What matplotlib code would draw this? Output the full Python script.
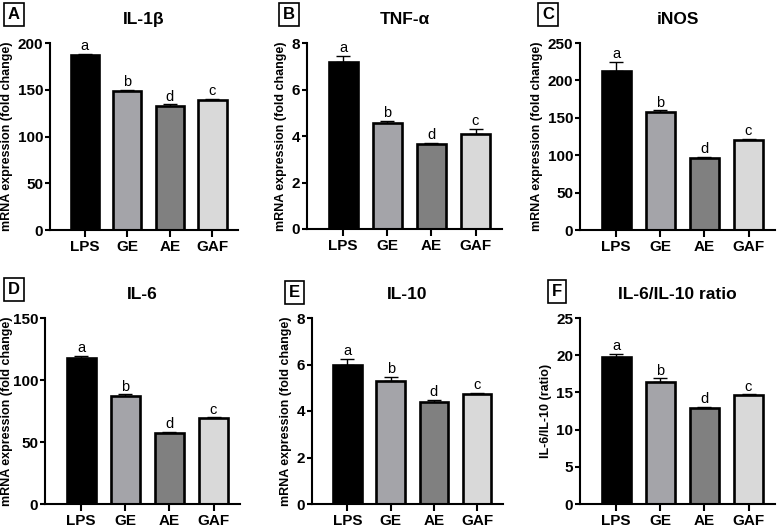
import matplotlib
matplotlib.use("Agg")
import matplotlib.pyplot as plt

plt.rcParams['font.family'] = ['Liberation Sans', 'DejaVu Sans']

# data
groups = ['LPS', 'GE', 'AE', 'GAF']
bar_colors = ['#000000', '#a4a4a9', '#808080', '#d9d9d9']
sig_letters = ['a', 'b', 'd', 'c']

il1b = [187, 149, 133, 139]
il1b_err = [1.5, 1.2, 1.5, 1.2]
tnfa = [7.2, 4.55, 3.65, 4.1]
tnfa_err = [0.25, 0.1, 0.07, 0.2]
inos = [213, 158, 96, 120]
inos_err = [12, 2, 1.5, 2]
il6 = [118, 87, 57, 69]
il6_err = [1.5, 1.5, 1, 1]
il10 = [6.0, 5.27, 4.4, 4.72]
il10_err = [0.25, 0.2, 0.07, 0.06]
ratio = [19.7, 16.4, 12.9, 14.6]
ratio_err = [0.5, 0.5, 0.2, 0.15]

W, H = 777, 530
fig = plt.figure(figsize=(W / 100, H / 100), dpi=100)

# panel settings: (letter, title, values, errors, ymax, ystep, ylabel, axes px box, letter box px, ylabel pad)
panels = [
    ('A', 'IL-1β', il1b, il1b_err, 200, 50, 'mRNA expression (fold change)', (50, 43, 238, 230), (4, 5), 3),
    ('B', 'TNF-α', tnfa, tnfa_err, 8, 2, 'mRNA expression (fold change)', (307, 43, 502, 229), (279, 5), 3),
    ('C', 'iNOS', inos, inos_err, 250, 50, 'mRNA expression (fold change)', (580, 43, 775, 230), (538, 5), 3),
    ('D', 'IL-6', il6, il6_err, 150, 50, 'mRNA expression (fold change)', (45, 318, 240, 504), (4, 280), 0),
    ('E', 'IL-10', il10, il10_err, 8, 2, 'mRNA expression (fold change)', (312, 318, 503, 504), (285, 283), 3),
    ('F', 'IL-6/IL-10 ratio', ratio, ratio_err, 25, 5, 'IL-6/IL-10 (ratio)', (580, 318, 775, 504), (548, 282), 3),
]

x = list(range(len(groups)))

for letter, title, vals, errs, ymax, ystep, ylab, box, lbox, lpad in panels:
    x0, y0, x1, y1 = box
    ax = fig.add_axes([x0 / W, 1 - y1 / H, (x1 - x0) / W, (y1 - y0) / H])
    ax.bar(x, vals, width=0.66, color=bar_colors, edgecolor='black', linewidth=1.9, zorder=2)
    ax.errorbar(x, vals, yerr=[[0] * 4, errs], fmt='none', ecolor='black',
                elinewidth=1.0, capsize=5, capthick=1.0, zorder=1)
    for xi, v, e, s in zip(x, vals, errs, sig_letters):
        ax.annotate(s, (xi, v + e), xytext=(0, 0.5), textcoords='offset points',
                    ha='center', va='bottom', fontsize=10.5)
    ax.set_xlim(-0.82, 3.6)
    ax.set_ylim(0, ymax)
    ax.set_yticks(list(range(0, ymax + 1, ystep)))
    ax.set_xticks(x)
    ax.set_xticklabels(groups)
    for sp in ['top', 'right']:
        ax.spines[sp].set_visible(False)
    for sp in ['left', 'bottom']:
        ax.spines[sp].set_linewidth(1.5)
    ax.tick_params(axis='both', width=1.5, labelsize=11)
    ax.tick_params(axis='x', length=5, pad=2.5)
    ax.tick_params(axis='y', length=3.5, pad=1.5)
    for lab in ax.get_xticklabels() + ax.get_yticklabels():
        lab.set_fontweight('bold')
    ax.set_ylabel(ylab, fontsize=9, fontweight='bold', labelpad=lpad)
    ax.set_title(title, fontsize=12.5, fontweight='bold', pad=14)
    # boxed panel letter
    fig.text(lbox[0] / W + 0.005, 1 - lbox[1] / H - 0.004, letter, ha='left', va='top',
             fontsize=12, fontweight='bold',
             bbox=dict(boxstyle='square,pad=0.25', facecolor='white', edgecolor='black', linewidth=1.2))

fig.savefig('out.png', dpi=100)
